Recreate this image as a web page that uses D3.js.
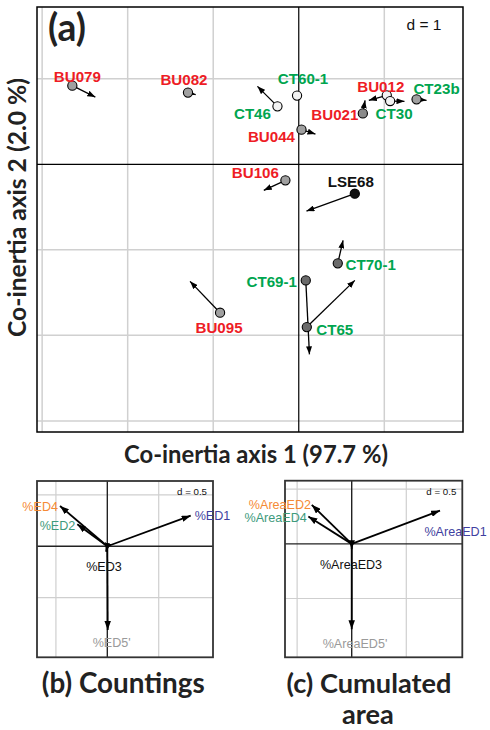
<!DOCTYPE html>
<html><head><meta charset="utf-8">
<script src="https://cdn.jsdelivr.net/npm/d3@7/dist/d3.min.js"></script>
<style>
html,body{margin:0;padding:0;background:#fff;}
svg{display:block;}
</style></head>
<body>
<svg id="chart" width="490" height="730"></svg>
<script>
// ---------- DATA ----------
// Panel (a): co-inertia sample scores (circle = table 1, arrow tip = table 2)
const sites   = ["BU079","BU082","CT46","CT60-1","BU044","BU021","BU012","CT30","CT23b","BU106","LSE68","BU095","CT70-1","CT69-1","CT65"];
const siteGroup = ["BU","BU","CT","CT","BU","BU","BU","CT","CT","BU","LSE","BU","CT","CT","CT"];
const siteShade = [2,2,0,0,2,3,0,0,2,2,5,2,4,4,4];
const axis1Start = [-2.647,-1.295,-0.249,-0.020,0.032,0.749,1.029,1.068,1.377,-0.156,0.655,-0.920,0.456,0.082,0.094];
const axis2Start = [0.920,0.839,0.678,0.804,0.406,0.596,0.807,0.740,0.760,-0.187,-0.343,-1.735,-1.158,-1.357,-1.903];
const axis1End   = [-2.378,-1.205,-0.483,-0.020,0.195,0.775,0.819,1.236,1.494,-0.409,0.090,-1.271,0.518,0.125,0.655];
const axis2End   = [0.787,0.815,0.912,0.804,0.354,0.749,0.749,0.737,0.749,-0.304,-0.546,-1.368,-0.889,-2.222,-1.357];
const gridA_x = [-3,-2,-1,1];
const gridA_y = [1,-1,-2,-3];

// Panel (b): variable loadings, countings
const varsB = ["%ED1","%ED2","%ED3","%ED4","%ED5'"];
const varsB_x = [0.811,-0.292,-0.013,-0.460,0.004];
const varsB_y = [0.298,0.214,-0.053,0.392,-0.814];
// Panel (c): variable loadings, cumulated area
const varsC = ["%AreaED1","%AreaED2","%AreaED3","%AreaED4","%AreaED5'"];
const varsC_x = [0.809,-0.366,0.000,-0.397,0.000];
const varsC_y = [0.305,0.357,-0.049,0.250,-0.781];
const gridBC = [-0.5,0.5];

// ---------- LAYOUT / STYLE ----------
const groupColor = {BU:"#ee1c25", CT:"#00a54f", LSE:"#111"};
const shadeFill = ["#f2f2f2","#dcdcdc","#a0a0a0","#8a8a8a","#6a6a6a","#111"];
const colB = ["#3f3fa0","#3d9a7c","#111","#f58a35","#9a9a9a"];
const colC = ["#3f3fa0","#f58a35","#111","#3d9a7c","#9a9a9a"];
// label offsets (px) relative to circle centre
const siteLabelOff = [[5,-9.5],[-4,-13],[-25,7.5],[6,-17],[-30,6.5],[-28,1],[-6,-9],[4,12.6],[20,-10.7],[-30,-7.7],[-4,-12.3],[-1,14.4],[33,1.3],[-34,1.3],[28,2.6]];
// label placement for vars: [anchor, dx, dy]
const labB = [["start",4,0],["end",-2,0.7],["middle",-2,15],["end",-2,0.7],["middle",4,12.3]];
const labC = [["middle",15.5,21],["end",-0.7,0],["middle",-0.7,15.7],["end",-1.6,1],["middle",3.3,14]];

const svg = d3.select("#chart");
const defs = svg.append("defs");
function marker(id, len, wid){
  defs.append("marker").attr("id",id).attr("markerUnits","userSpaceOnUse")
    .attr("viewBox",`0 ${-wid/2} ${len} ${wid}`).attr("refX",len).attr("refY",0)
    .attr("markerWidth",len).attr("markerHeight",wid).attr("orient","auto")
    .append("path").attr("d",`M0,${-wid/2}L${len},0L0,${wid/2}Z`).attr("fill","#000");
}
marker("hA",8,6);
marker("hB",9,6.5);

// font calibration helper: size giving a target width for a sample string
function calib(sample, family, weight, target){
  const t = svg.append("text").attr("font-family",family).attr("font-weight",weight).attr("font-size",20).text(sample);
  const L = t.node().getComputedTextLength(); t.remove();
  return 20*target/L;
}
function fit(sel, w){ const n=sel.node(); const fs=+sel.attr("font-size"); const L=n.getComputedTextLength(); sel.attr("font-size",fs*w/L); }
const sf = "'Liberation Sans',Arial,sans-serif";
const tf = "Lato,'Open Sans',sans-serif";
const fsLab = calib("CT70-1", sf, "bold", 50.5);
const fsVar = calib("%ED1", sf, "normal", 35.7);

// ---------- PANEL (a) ----------
const xA = d3.scaleLinear().domain([-3.06,1.92]).range([37,463]);
const yA = d3.scaleLinear().domain([-3.13,1.84]).range([432,7]);
const gA = svg.append("g");
gA.selectAll(".gx").data(gridA_x).join("line")
  .attr("x1",d=>xA(d)).attr("x2",d=>xA(d)).attr("y1",yA.range()[1]).attr("y2",yA.range()[0])
  .attr("stroke","#d0d0d0").attr("stroke-width",1.5);
gA.selectAll(".gy").data(gridA_y).join("line")
  .attr("y1",d=>yA(d)).attr("y2",d=>yA(d)).attr("x1",xA.range()[0]).attr("x2",xA.range()[1])
  .attr("stroke","#d0d0d0").attr("stroke-width",1.5);
gA.append("line").attr("x1",xA(0)).attr("x2",xA(0)).attr("y1",7).attr("y2",432).attr("stroke","#000").attr("stroke-width",1.2);
gA.append("line").attr("y1",yA(0)).attr("y2",yA(0)).attr("x1",37).attr("x2",463).attr("stroke","#000").attr("stroke-width",1.2);
gA.append("rect").attr("x",37).attr("y",7).attr("width",426).attr("height",425)
  .attr("fill","none").attr("stroke","#000").attr("stroke-width",1.5);

const pts = sites.map((s,i)=>({name:s,g:siteGroup[i],shade:siteShade[i],x1:axis1Start[i],y1:axis2Start[i],x2:axis1End[i],y2:axis2End[i],off:siteLabelOff[i]}));
gA.selectAll(".arr").data(pts.filter(d=>Math.hypot(xA(d.x2)-xA(d.x1),yA(d.y2)-yA(d.y1))>1)).join("line")
  .attr("x1",d=>xA(d.x1)).attr("y1",d=>yA(d.y1)).attr("x2",d=>xA(d.x2)).attr("y2",d=>yA(d.y2))
  .attr("stroke","#000").attr("stroke-width",1.3).attr("marker-end","url(#hA)");
gA.selectAll(".pt").data(pts).join("circle")
  .attr("cx",d=>xA(d.x1)).attr("cy",d=>yA(d.y1)).attr("r",4.6)
  .attr("fill",d=>shadeFill[d.shade]).attr("stroke","#000").attr("stroke-width",1.1);
gA.selectAll(".lab").data(pts).join("text")
  .attr("x",d=>xA(d.x1)+d.off[0]).attr("y",d=>yA(d.y1)+d.off[1]).attr("dy","0.36em")
  .attr("text-anchor","middle").attr("font-family",sf)
  .attr("font-weight","bold").attr("font-size",fsLab).attr("fill",d=>groupColor[d.g]).text(d=>d.name);
fit(gA.append("text").attr("x",48).attr("y",41).attr("font-family",tf)
  .attr("font-weight","bold").attr("font-size",31).attr("fill","#222").text("(a)"),38);
fit(gA.append("text").attr("x",424).attr("y",24).attr("dy","0.36em").attr("text-anchor","middle")
  .attr("font-family",sf).attr("font-size",13).attr("fill","#111").text("d = 1"),35);

fit(svg.append("text").attr("x",256).attr("y",463).attr("text-anchor","middle").attr("font-family",tf)
  .attr("font-weight","bold").attr("font-size",20).attr("fill","#222").text("Co-inertia axis 1 (97.7 %)"),264);
fit(svg.append("text").attr("transform","translate(26,207.5) rotate(-90)").attr("text-anchor","middle").attr("font-family",tf)
  .attr("font-weight","bold").attr("font-size",20).attr("fill","#222").text("Co-inertia axis 2 (2.0 %)"),259);

// ---------- PANELS (b), (c) ----------
function varPanel(names, vx, vy, cols, labs, xDom, xRng, yDom, yRng){
  const x = d3.scaleLinear().domain(xDom).range(xRng);
  const y = d3.scaleLinear().domain(yDom).range(yRng);
  const g = svg.append("g");
  g.selectAll(".gx").data(gridBC).join("line").attr("x1",d=>x(d)).attr("x2",d=>x(d))
    .attr("y1",yRng[1]).attr("y2",yRng[0]).attr("stroke","#cfcfcf").attr("stroke-width",1.2);
  g.selectAll(".gy").data(gridBC).join("line").attr("y1",d=>y(d)).attr("y2",d=>y(d))
    .attr("x1",xRng[0]).attr("x2",xRng[1]).attr("stroke","#cfcfcf").attr("stroke-width",1.2);
  g.append("line").attr("x1",x(0)).attr("x2",x(0)).attr("y1",yRng[1]).attr("y2",yRng[0]).attr("stroke","#222").attr("stroke-width",1.4);
  g.append("line").attr("y1",y(0)).attr("y2",y(0)).attr("x1",xRng[0]).attr("x2",xRng[1]).attr("stroke","#222").attr("stroke-width",1.4);
  g.append("rect").attr("x",xRng[0]).attr("y",yRng[1]).attr("width",xRng[1]-xRng[0]).attr("height",yRng[0]-yRng[1])
    .attr("fill","none").attr("stroke","#333").attr("stroke-width",1.8);
  const d = names.map((n,i)=>({n,x:vx[i],y:vy[i],c:cols[i],l:labs[i]}));
  g.selectAll(".v").data(d).join("line").attr("x1",x(0)).attr("y1",y(0))
    .attr("x2",e=>x(e.x)).attr("y2",e=>y(e.y)).attr("stroke","#000").attr("stroke-width",1.8).attr("marker-end","url(#hB)");
  g.selectAll(".vl").data(d).join("text").attr("x",e=>x(e.x)+e.l[1]).attr("y",e=>y(e.y)+e.l[2]).attr("dy","0.36em")
    .attr("text-anchor",e=>e.l[0]).attr("font-family",sf).attr("font-size",fsVar)
    .attr("fill",e=>e.c).text(e=>e.n);
  fit(g.append("text").attr("x",xRng[1]-6).attr("y",yRng[1]+11).attr("dy","0.36em").attr("text-anchor","end")
    .attr("font-family",sf).attr("font-size",9.5).attr("fill","#111").text("d = 0.5"),30);
}
varPanel(varsB, varsB_x, varsB_y, colB, labB, [-0.684,1.028],[37,213],[-1.080,0.635],[657.3,481]);
varPanel(varsC, varsC_x, varsC_y, colC, labC, [-0.611,1.013],[285,462.3],[-1.038,0.578],[657.3,480.7]);

const t1 = svg.append("text").attr("x",123.3).attr("y",693).attr("text-anchor","middle").attr("font-family",tf)
  .attr("font-weight","bold").attr("font-size",22).attr("fill","#222").text("(b) Countings");
fit(t1,163);
const t2 = svg.append("text").attr("x",369).attr("y",693).attr("text-anchor","middle").attr("font-family",tf)
  .attr("font-weight","bold").attr("font-size",22).attr("fill","#222").text("(c) Cumulated");
fit(t2,165);
svg.append("text").attr("x",368).attr("y",724).attr("text-anchor","middle").attr("font-family",tf)
  .attr("font-weight","bold").attr("font-size",t2.attr("font-size")).attr("fill","#222").text("area");
</script>
</body></html>
